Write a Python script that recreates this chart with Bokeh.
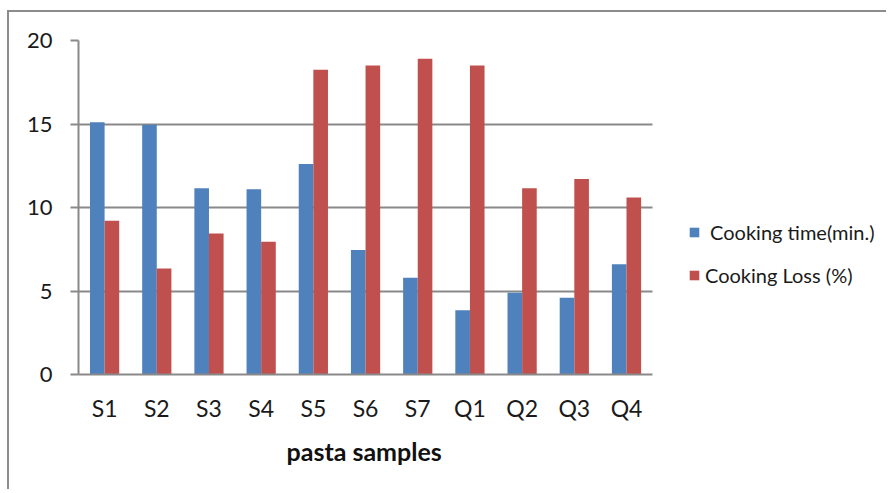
from bokeh.plotting import figure
from bokeh.models import Range1d, Legend, LegendItem, FixedTicker, ColumnDataSource, Title
from bokeh.embed import file_html
from bokeh.resources import INLINE

samples = ["S1", "S2", "S3", "S4", "S5", "S6", "S7", "Q1", "Q2", "Q3", "Q4"]
cooking_time = [15.1, 14.95, 11.15, 11.1, 12.6, 7.45, 5.8, 3.85, 4.9, 4.6, 6.6]
cooking_loss = [9.2, 6.35, 8.45, 7.95, 18.25, 18.5, 18.9, 18.5, 11.15, 11.7, 10.6]
y_ticks = [0, 5, 10, 15, 20]
series_names = ["Cooking time(min.)", "Cooking Loss (%)"]
x_title = "pasta samples"

FONT = "Lato"
GRAY = "#898989"
N = len(samples)
centers = [i + 0.5 for i in range(N)]
BAR_W = 0.28

src = ColumnDataSource(data=dict(
    x_time=[c - BAR_W / 2 for c in centers],
    x_loss=[c + BAR_W / 2 for c in centers],
    time=cooking_time, loss=cooking_loss))

# plot frame extends to the right edge so the legend can live inside it
p = figure(width=879, height=479, x_range=Range1d(0, 15.52), y_range=Range1d(0, 20),
           output_backend="svg", toolbar_location=None,
           min_border_left=69, min_border_top=28, min_border_bottom=117, min_border_right=0)
p.styles = {"margin-left": "7px", "margin-top": "10px",
            "border-top": "2px solid #8c8c8c", "border-left": "2px solid #8c8c8c"}
p.outline_line_color = None
p.background_fill_color = "white"
p.border_fill_color = "white"

r1 = p.vbar(x="x_time", top="time", width=BAR_W, source=src,
            fill_color="#4F81BD", line_color=None)
r2 = p.vbar(x="x_loss", top="loss", width=BAR_W, source=src,
            fill_color="#C0504D", line_color=None)

# grid
p.xgrid.visible = False
p.ygrid.ticker = FixedTicker(ticks=y_ticks)
p.ygrid.grid_line_color = GRAY
p.ygrid.grid_line_width = 2
if "cross_bounds" in p.ygrid.properties():
    p.ygrid.cross_bounds = (0, N)

# y axis
p.yaxis.ticker = FixedTicker(ticks=y_ticks)
p.yaxis.axis_line_color = GRAY
p.yaxis.axis_line_width = 2
p.yaxis.major_tick_line_color = GRAY
p.yaxis.major_tick_line_width = 2
p.yaxis.major_tick_out = 8
p.yaxis.major_tick_in = 0
p.yaxis.minor_tick_line_color = None
p.yaxis.major_label_standoff = 18
p.yaxis.major_label_text_font = FONT
p.yaxis.major_label_text_font_size = "22px"
p.yaxis.major_label_text_color = "#1a1a1a"

# x axis
p.xaxis.bounds = (0, N)
p.xaxis.ticker = FixedTicker(ticks=centers)
p.xaxis.major_label_overrides = {c: s for c, s in zip(centers, samples)}
p.xaxis.axis_line_color = GRAY
p.xaxis.axis_line_width = 2
p.xaxis.major_tick_line_color = None
p.xaxis.minor_tick_line_color = None
p.xaxis.major_tick_out = 0
p.xaxis.major_tick_in = 0
p.xaxis.major_label_standoff = 19
p.xaxis.major_label_text_font = FONT
p.xaxis.major_label_text_font_size = "23px"
p.xaxis.major_label_text_color = "#1a1a1a"

# x axis title, centred under the category span (not the whole frame)
xt = Title(text=x_title, align="left", offset=208, vertical_align="top", standoff=22,
           text_font=FONT, text_font_size="25px", text_font_style="bold",
           text_color="#111111")
p.add_layout(xt, "below")

legend = Legend(items=[LegendItem(label="\u00a0" + series_names[0], renderers=[r1]),
                       LegendItem(label=series_names[1], renderers=[r2])],
                location=(610, 87))
legend.padding = 0
legend.margin = 0
legend.border_line_color = None
legend.background_fill_alpha = 0
legend.glyph_width = 12
legend.glyph_height = 12
legend.label_standoff = 5
legend.label_height = 20
legend.spacing = 19
legend.label_text_font = FONT
legend.label_text_font_size = "20px"
legend.label_text_color = "#1a1a1a"
p.add_layout(legend, "center")

open("out.html", "w").write(file_html(p, INLINE))
